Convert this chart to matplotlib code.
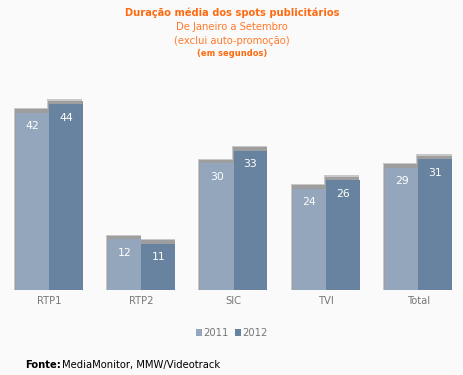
import matplotlib
matplotlib.use("Agg")
import matplotlib.pyplot as plt
import numpy as np

categories = ["RTP1", "RTP2", "SIC", "TVI", "Total"]
series_names = ["2011", "2012"]
values_2011 = [42, 12, 30, 24, 29]
values_2012 = [44, 11, 33, 26, 31]

colors = ["#94a6bb", "#68839f"]
bg = "#fafafa"

fig = plt.figure(figsize=(4.64, 3.75), dpi=100, facecolor=bg)
ax = fig.add_axes([3/464, 85/375, 461.5/464, 211/375], facecolor=bg)

x = np.arange(len(categories))
w = 0.363
for i, (vals, c) in enumerate(zip([values_2011, values_2012], colors)):
    pos = x + (i - 0.5) * w
    # shadow
    ax.bar(pos - 0.012, np.array(vals) + 1.15, width=w + 0.02, color="#c8c8c8", zorder=1)
    ax.bar(pos - 0.006, np.array(vals) + 0.85, width=w + 0.01, color="#9e9e9e", zorder=1.5)
    ax.bar(pos, vals, width=w, color=c, zorder=2, label=series_names[i])
    for p, v in zip(pos, vals):
        ax.text(p, v - 2.0, str(v), ha="center", va="top", color="white", fontsize=7.8, zorder=3)

ax.set_xlim(-0.5, 4.5)
ax.set_ylim(0, 50)
ax.set_yticks([])
ax.set_xticks(x)
ax.set_xticklabels(categories, color="#777777", fontsize=7.2)
ax.tick_params(axis="x", length=0, pad=4)
for s in ax.spines.values():
    s.set_visible(False)

fig.text(0.5, 1 - 13/375, "Duração média dos spots publicitários", ha="center", va="center",
         color="#ff6a10", fontsize=7.1, fontweight="bold")
fig.text(0.5, 1 - 27/375, "De Janeiro a Setembro", ha="center", va="center",
         color="#ff7a2a", fontsize=7.2)
fig.text(0.5, 1 - 41/375, "(exclui auto-promoção)", ha="center", va="center",
         color="#ff7a2a", fontsize=7.2)
fig.text(0.5, 1 - 53/375, "(em segundos)", ha="center", va="center",
         color="#ff6a10", fontsize=6, fontweight="bold")

leg = fig.legend(loc="center", bbox_to_anchor=(0.5, 1 - 333/375), ncol=2, frameon=False,
                 fontsize=7.2, handlelength=0.6, handleheight=0.6, handletextpad=0.15,
                 columnspacing=0.6, labelcolor="#777777")

fig.text(25/464, 1 - 365/375, "Fonte:", ha="left", va="center", color="black",
         fontsize=7.2, fontweight="bold")
fig.text(62/464, 1 - 365/375, "MediaMonitor, MMW/Videotrack", ha="left", va="center",
         color="black", fontsize=7.2)

fig.savefig("out.png", dpi=100, facecolor=bg)
